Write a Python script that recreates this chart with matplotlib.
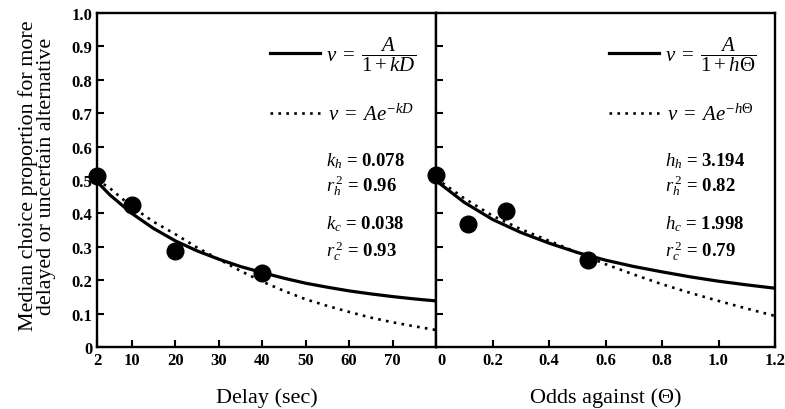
import matplotlib
matplotlib.use("Agg")
import matplotlib.pyplot as plt
import matplotlib.transforms as mtransforms
from matplotlib.lines import Line2D

plt.rcParams['font.family'] = ['Liberation Serif', 'DejaVu Serif']
plt.rcParams['mathtext.fontset'] = 'custom'
plt.rcParams['mathtext.rm'] = 'Liberation Serif'
plt.rcParams['mathtext.it'] = 'Liberation Serif:italic'
plt.rcParams['mathtext.bf'] = 'Liberation Serif:bold'

# delay panel: observed medians
delay = [2, 10, 20, 40]
delay_prop = [0.513, 0.426, 0.286, 0.221]
# fitted curves
delay_x = [2, 5, 10, 15, 20, 25, 30, 35, 40, 45, 50, 55, 60, 65, 70, 75, 80]
delay_hyp = [0.495, 0.455, 0.400, 0.355, 0.318, 0.288, 0.263, 0.241, 0.223,
             0.206, 0.191, 0.179, 0.168, 0.159, 0.151, 0.144, 0.138]
delay_exp = [0.500, 0.475, 0.420, 0.375, 0.338, 0.298, 0.263, 0.228, 0.196,
             0.168, 0.143, 0.123, 0.105, 0.088, 0.074, 0.062, 0.051]

# odds panel
odds = [0.0, 0.112, 0.247, 0.538]
odds_prop = [0.515, 0.368, 0.408, 0.261]
odds_x = [0.0, 0.1, 0.2, 0.3, 0.4, 0.5, 0.6, 0.7, 0.8, 0.9, 1.0, 1.1, 1.2]
odds_hyp = [0.498, 0.433, 0.382, 0.343, 0.311, 0.283, 0.260, 0.241, 0.225,
            0.210, 0.197, 0.186, 0.176]
odds_exp = [0.505, 0.445, 0.393, 0.353, 0.318, 0.283, 0.248, 0.217, 0.188,
            0.162, 0.138, 0.115, 0.093]

yticks = [0, 0.1, 0.2, 0.3, 0.4, 0.5, 0.6, 0.7, 0.8, 0.9, 1.0]
ytick_labels = ["0", "0.1", "0.2", "0.3", "0.4", "0.5", "0.6", "0.7", "0.8", "0.9", "1.0"]
delay_ticks = [2, 10, 20, 30, 40, 50, 60, 70]
odds_ticks = [0, 0.2, 0.4, 0.6, 0.8, 1.0, 1.2]
odds_labels = ["0", "0.2", "0.4", "0.6", "0.8", "1.0", "1.2"]

delay_stats = [r"$k_h$ = 0.078", r"$r_h^{\,2}$ = 0.96", r"$k_c$ = 0.038", r"$r_c^{\,2}$ = 0.93"]
odds_stats = [r"$h_h$ = 3.194", r"$r_h^{\,2}$ = 0.82", r"$h_c$ = 1.998", r"$r_c^{\,2}$ = 0.79"]

W, H = 785, 410
fig = plt.figure(figsize=(W / 100, H / 100), dpi=100)
ax1 = fig.add_axes([97 / W, 62 / H, 339 / W, 334 / H])
ax2 = fig.add_axes([436 / W, 62 / H, 339 / W, 334 / H])

dots = (0, (1, 2))


def style(ax):
    for s in ax.spines.values():
        s.set_linewidth(1.7)
    ax.tick_params(direction='in', length=5, width=1.5, labelsize=12)
    for lab in ax.get_xticklabels() + ax.get_yticklabels():
        lab.set_fontweight('bold')
    ax.set_ylim(0, 1.0)


def draw(ax, x, hyp, ex, px, py):
    ax.plot(x, hyp, color='k', lw=2.3, solid_capstyle='butt')
    ax.plot(x, ex, color='k', lw=1.9, ls=dots)
    ax.plot(px, py, 'o', color='k', ms=12, clip_on=False, zorder=5)


draw(ax1, delay_x, delay_hyp, delay_exp, delay, delay_prop)
ax1.set_xlim(2, 80)
ax1.set_xticks(delay_ticks)
ax1.set_yticks(yticks)
ax1.set_yticklabels(ytick_labels)

draw(ax2, odds_x, odds_hyp, odds_exp, odds, odds_prop)
ax2.set_xlim(0, 1.2)
ax2.set_xticks(odds_ticks)
ax2.set_xticklabels(odds_labels)
ax2.set_yticks(yticks)
ax2.tick_params(labelleft=False)

style(ax1)
style(ax2)

# the "0" under the divider sits a little to the right
zero = ax2.get_xticklabels()[0]
zero.set_transform(zero.get_transform() + mtransforms.ScaledTranslation(5 / 100, 0, fig.dpi_scale_trans))

ax1.set_xlabel("Delay (sec)", fontsize=16, labelpad=14)
ax2.set_xlabel("Odds against (\u0398)", fontsize=16, labelpad=14)
ax1.set_ylabel("Median choice proportion for more\ndelayed or uncertain alternative",
               fontsize=15.8, linespacing=0.92)
ax1.yaxis.set_label_coords(-0.12, 0.515)

handles = [Line2D([], [], color='k', lw=2.3), Line2D([], [], color='k', lw=1.9, ls=dots)]
for ax, var in [(ax1, "kD"), (ax2, r"h\Theta")]:
    ax.legend(handles, [r"$v\;=\;\dfrac{A}{1+%s}$" % var, r"$\,v\;=\;Ae^{-%s}$" % var],
              loc='upper left', bbox_to_anchor=(0.51, 0.937), frameon=False,
              fontsize=15, handlelength=2.4, handletextpad=0.3, labelspacing=1.5,
              borderpad=0, borderaxespad=0)

for ax, stats in [(ax1, delay_stats), (ax2, odds_stats)]:
    for t, yy in zip(stats, [0.56, 0.485, 0.37, 0.29]):
        ax.text(0.675, yy, t, transform=ax.transAxes, fontsize=13.5, va='center',
                fontweight='bold')

fig.savefig("out.png", dpi=100)
